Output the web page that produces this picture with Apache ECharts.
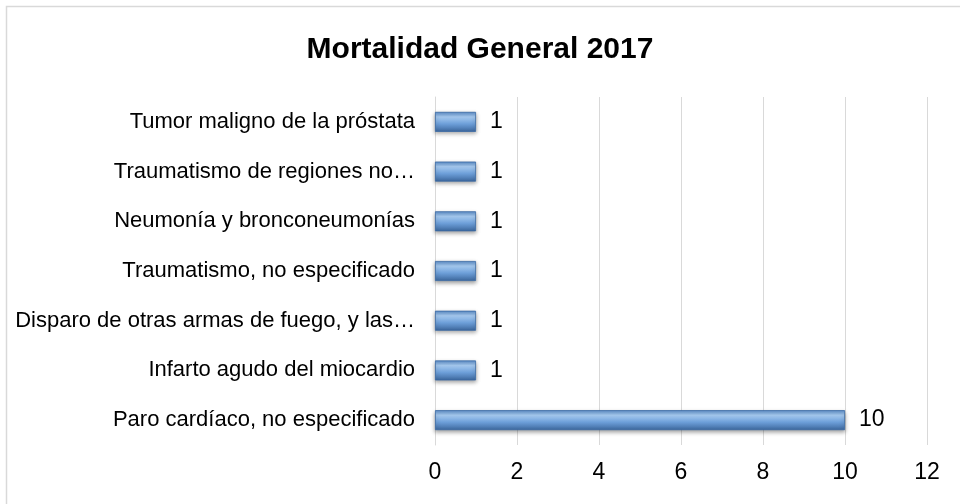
<!DOCTYPE html>
<html><head><meta charset="utf-8">
<script src="https://cdn.jsdelivr.net/npm/echarts@6/dist/echarts.min.js"></script>
<style>html,body{margin:0;padding:0;background:#fff}#c{width:960px;height:504px}</style>
</head><body><div id="c"></div>
<script>
var categories = [
  "Paro cardíaco, no especificado",
  "Infarto agudo del miocardio",
  "Disparo de otras armas de fuego, y las…",
  "Traumatismo, no especificado",
  "Neumonía y bronconeumonías",
  "Traumatismo de regiones no…",
  "Tumor maligno de la próstata"
];
var values = [10, 1, 1, 1, 1, 1, 1];
var xTicks = [0, 2, 4, 6, 8, 10, 12];

var chart = echarts.init(document.getElementById('c'));
chart.setOption({
  animation: false,
  backgroundColor: '#fff',
  graphic: [{
    type: 'rect', shape: {x: 6.5, y: 6.5, width: 1000, height: 600},
    style: {fill: 'none', stroke: '#d9d9d9', lineWidth: 1.5}, silent: true
  }],
  title: {
    text: 'Mortalidad General 2017', left: 'center', top: 30,
    textStyle: {fontFamily: 'Liberation Sans, Arial', fontSize: 30, fontWeight: 'bold', color: '#000'}
  },
  grid: {left: 435, right: 33, top: 97, bottom: 59},
  xAxis: {
    type: 'value', min: xTicks[0], max: xTicks[xTicks.length - 1], interval: 2,
    axisLine: {show: false}, axisTick: {show: false},
    splitLine: {lineStyle: {color: '#d9d9d9', width: 1}},
    axisLabel: {fontFamily: 'Liberation Sans, Arial', fontSize: 23, color: '#000', margin: 16}
  },
  yAxis: {
    type: 'category', data: categories,
    axisLine: {show: true, lineStyle: {color: '#d9d9d9'}}, axisTick: {show: false},
    axisLabel: {fontFamily: 'Liberation Sans, Arial', fontSize: 22, color: '#000', margin: 20}
  },
  series: [{
    type: 'bar', data: values, barWidth: 20,
    itemStyle: {
      color: new echarts.graphic.LinearGradient(0, 0, 0, 1, [
        {offset: 0, color: '#5a8cc8'},
        {offset: 0.25, color: '#a6caf0'},
        {offset: 0.6, color: '#6d9fd9'},
        {offset: 1, color: '#3c679d'}
      ]),
      borderColor: '#3a6aa5', borderWidth: 0.8,
      shadowColor: 'rgba(0,0,0,0.35)', shadowBlur: 4, shadowOffsetY: 2
    },
    label: {show: true, position: 'right', distance: 14,
      fontFamily: 'Liberation Sans, Arial', fontSize: 23, color: '#000'}
  }]
});
</script></body></html>
